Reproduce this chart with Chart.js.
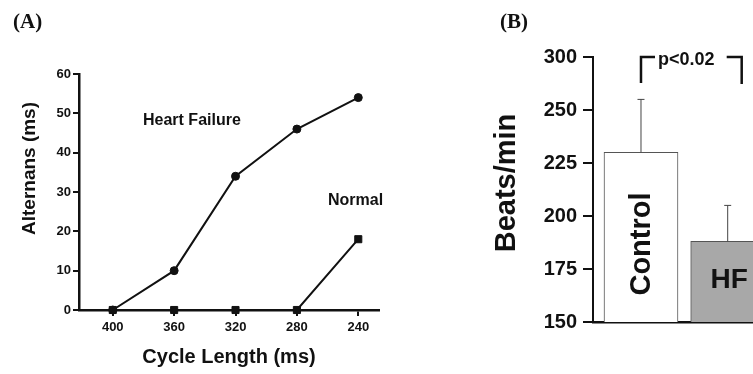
<!DOCTYPE html>
<html><head><meta charset="utf-8">
<script src="https://cdn.jsdelivr.net/npm/chart.js@4/dist/chart.umd.min.js"></script>
<style>
html,body{margin:0;padding:0;background:#fff;overflow:hidden;width:753px;height:374px;}
#wrap{position:relative;width:753px;height:374px;overflow:hidden;background:#fff;}
#cA{position:absolute;left:0;top:0;}
#cB{position:absolute;left:400px;top:0;}
</style></head><body>
<div id="wrap"><canvas id="cA" width="400" height="374"></canvas><canvas id="cB" width="400" height="374"></canvas></div>
<script>
// ---- Panel A data ----
const cycleLengths = [400, 360, 320, 280, 240];
const heartFailure = [0, 10, 34, 46, 54];
const normal = [0, 0, 0, 0, 18];
const alternansTicks = [0, 10, 20, 30, 40, 50, 60];
const seriesNames = ['Heart Failure', 'Normal'];

// ---- Panel B data ----
const groups = ['Control', 'HF'];
const beatsMean = [230, 188];
const beatsErrTop = [255, 205];
const beatsTickValues = [150, 175, 200, 225, 250, 275];
const beatsTickLabels = ['150', '175', '200', '225', '250', '300'];
const pLabel = 'p<0.02';

const SANS = "'Liberation Sans', Arial, sans-serif";
const SERIF = "'Liberation Serif', 'Times New Roman', serif";
const INK = '#111';
Chart.defaults.font.family = SANS;
Chart.defaults.color = INK;

const annotA = {
  id: 'annotA',
  afterDraw(chart) {
    const ctx = chart.ctx;
    ctx.save();
    ctx.fillStyle = INK;
    ctx.textBaseline = 'alphabetic';
    ctx.textAlign = 'left';
    ctx.font = 'bold 21px ' + SERIF;
    ctx.fillText('(A)', 13, 27.5);
    ctx.font = 'bold 16px ' + SANS;
    ctx.fillText(seriesNames[0], 143, 125);
    ctx.fillText(seriesNames[1], 328, 205);
    ctx.translate(35, 168.5);
    ctx.rotate(-Math.PI / 2);
    ctx.textAlign = 'center';
    ctx.font = 'bold 19px ' + SANS;
    ctx.fillText('Alternans (ms)', 0, 0);
    ctx.restore();
  }
};

new Chart(document.getElementById('cA'), {
  type: 'line',
  data: {
    datasets: [
      { label: seriesNames[0], data: cycleLengths.map((c, i) => ({ x: c, y: heartFailure[i] })),
        borderColor: INK, backgroundColor: INK, borderWidth: 2, pointStyle: 'circle',
        pointRadius: 4, pointBorderWidth: 1, tension: 0, clip: false },
      { label: seriesNames[1], data: cycleLengths.map((c, i) => ({ x: c, y: normal[i] })),
        borderColor: INK, backgroundColor: INK, borderWidth: 2, pointStyle: 'rect',
        pointRadius: 5, pointBorderWidth: 1, tension: 0, clip: false }
    ]
  },
  options: {
    responsive: false, animation: false, events: [],
    layout: { padding: { left: 0, top: 74, right: 21, bottom: 0 } },
    plugins: { legend: { display: false }, tooltip: { enabled: false } },
    scales: {
      x: {
        type: 'linear', reverse: true, min: 226.5, max: 422,
        afterBuildTicks: s => { s.ticks = cycleLengths.map(v => ({ value: v })); },
        afterFit: s => { s.height = 64; },
        grid: { display: true, drawOnChartArea: false, drawTicks: true, tickLength: 6, color: INK, lineWidth: 2 },
        border: { display: true, color: INK, width: 2.5 },
        ticks: { font: { size: 13, weight: 'bold' }, padding: 4, color: INK, maxRotation: 0, autoSkip: false },
        title: { display: true, text: 'Cycle Length (ms)', font: { size: 20, weight: 'bold' }, padding: { top: 0, bottom: 5 }, color: INK }
      },
      y: {
        min: 0, max: 60,
        afterBuildTicks: s => { s.ticks = alternansTicks.map(v => ({ value: v })); },
        afterFit: s => { s.width = 79; },
        grid: { display: true, drawOnChartArea: false, drawTicks: true, tickLength: 6, color: INK, lineWidth: 2 },
        border: { display: true, color: INK, width: 2.5 },
        ticks: { font: { size: 13, weight: 'bold' }, padding: 2, color: INK }
      }
    }
  },
  plugins: [annotA]
});

const annotB = {
  id: 'annotB',
  afterDatasetsDraw(chart) {
    const ctx = chart.ctx;
    const meta = chart.getDatasetMeta(0);
    const ys = chart.scales.y;
    ctx.save();
    // error bars
    ctx.strokeStyle = '#444';
    ctx.lineWidth = 1;
    meta.data.forEach((bar, i) => {
      const yt = ys.getPixelForValue(beatsErrTop[i]);
      ctx.beginPath();
      ctx.moveTo(bar.x, bar.y);
      ctx.lineTo(bar.x, yt);
      ctx.moveTo(bar.x - 3.5, yt);
      ctx.lineTo(bar.x + 3.5, yt);
      ctx.stroke();
    });
    // bracket
    const b0 = meta.data[0], b1 = meta.data[1];
    const top = ys.getPixelForValue(ys.max);
    const lx = b0.x, rx = b1.x + 14;
    ctx.strokeStyle = INK;
    ctx.lineWidth = 2.5;
    ctx.lineCap = 'butt';
    ctx.beginPath();
    ctx.moveTo(lx, top + 26); ctx.lineTo(lx, top); ctx.lineTo(lx + 14, top);
    ctx.moveTo(rx - 15, top); ctx.lineTo(rx, top); ctx.lineTo(rx, top + 27);
    ctx.stroke();
    ctx.fillStyle = INK;
    ctx.font = 'bold 18px ' + SANS;
    ctx.textAlign = 'left';
    ctx.textBaseline = 'alphabetic';
    ctx.fillText(pLabel, lx + 17, top + 8);
    // panel label
    ctx.font = 'bold 21px ' + SERIF;
    ctx.fillText('(B)', 100, 27.5);
    // HF label
    ctx.font = 'bold 28px ' + SANS;
    ctx.textAlign = 'center';
    ctx.fillText(groups[1], b1.x + 1.5, 288);
    // Control label rotated
    ctx.save();
    ctx.translate(b0.x + 9, 244);
    ctx.rotate(-Math.PI / 2);
    ctx.font = 'bold 29px ' + SANS;
    ctx.fillText(groups[0], 0, 0);
    ctx.restore();
    // y title
    ctx.save();
    ctx.translate(115, 183);
    ctx.rotate(-Math.PI / 2);
    ctx.font = 'bold 29px ' + SANS;
    ctx.fillText('Beats/min', 0, 0);
    ctx.restore();
    ctx.restore();
  }
};

new Chart(document.getElementById('cB'), {
  type: 'bar',
  data: {
    datasets: [{
      label: 'Beats/min',
      data: groups.map((g, i) => ({ x: i + 1, y: beatsMean[i] })),
      backgroundColor: ['#ffffff', '#a8a8a8'],
      borderColor: ['#555555', '#555555'],
      borderWidth: 1,
      barThickness: 74
    }]
  },
  options: {
    responsive: false, animation: false, events: [],
    layout: { padding: { left: 0, top: 57, right: 0, bottom: 0 } },
    plugins: { legend: { display: false }, tooltip: { enabled: false } },
    scales: {
      x: {
        type: 'linear', min: 0.4464, max: 2.834, offset: false,
        grid: { display: false },
        border: { display: true, color: INK, width: 2.5 },
        ticks: { display: false },
        afterFit: s => { s.height = 52; }
      },
      y: {
        min: 150, max: 275,
        afterBuildTicks: s => { s.ticks = beatsTickValues.map(v => ({ value: v })); },
        afterFit: s => { s.width = 193; },
        grid: { display: true, drawOnChartArea: false, drawTicks: true, tickLength: 10, color: INK, lineWidth: 2 },
        border: { display: true, color: INK, width: 2 },
        ticks: { callback: (v, i) => beatsTickLabels[i], font: { size: 20, weight: 'bold' }, padding: 6, color: INK }
      }
    }
  },
  plugins: [annotB]
});
</script>
</body></html>
